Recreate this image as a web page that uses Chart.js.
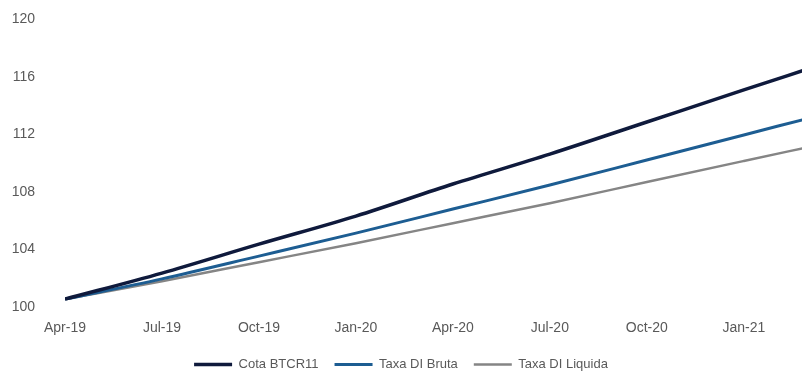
<!DOCTYPE html>
<html>
<head>
<meta charset="utf-8">
<script src="https://cdn.jsdelivr.net/npm/chart.js@4.4.1/dist/chart.umd.min.js"></script>
<style>
  html, body { margin: 0; padding: 0; background: #fff; overflow: hidden; }
  #wrap { width: 802px; height: 382px; position: relative; margin-top: -11px; }
</style>
</head>
<body>
<div id="wrap"><canvas id="chart"></canvas></div>
<script>
// months since Apr-19 for each point
var monthIdx = [0, 3, 6, 9, 12, 15, 18, 21, 23];
var tickLabels = ['Apr-19', 'Jul-19', 'Oct-19', 'Jan-20', 'Apr-20', 'Jul-20', 'Oct-20', 'Jan-21'];
var cotaBTCR11 = [100.56, 102.37, 104.38, 106.33, 108.56, 110.64, 112.87, 115.10, 116.57];
var taxaDIBruta = [100.56, 101.97, 103.55, 105.15, 106.82, 108.49, 110.23, 111.97, 113.13];
var taxaDILiquida = [100.56, 101.81, 103.13, 104.45, 105.84, 107.23, 108.70, 110.16, 111.13];

function pts(vals) {
    return vals.map(function(v, i) { return { x: monthIdx[i], y: v }; });
}

var labelFont = { family: "'Liberation Sans Narrow', 'Liberation Sans', sans-serif", size: 14 };

new Chart(document.getElementById('chart'), {
    type: 'line',
    data: {
        datasets: [{
            label: 'Cota BTCR11',
            data: pts(cotaBTCR11),
            borderColor: '#0f1a3c',
            backgroundColor: '#0f1a3c',
            borderWidth: 3.5,
            pointRadius: 0,
            cubicInterpolationMode: 'monotone'
        }, {
            label: 'Taxa DI Bruta',
            data: pts(taxaDIBruta),
            borderColor: '#1d5d92',
            backgroundColor: '#1d5d92',
            borderWidth: 3,
            pointRadius: 0,
            cubicInterpolationMode: 'monotone'
        }, {
            label: 'Taxa DI Liquida',
            data: pts(taxaDILiquida),
            borderColor: '#858585',
            backgroundColor: '#858585',
            borderWidth: 2.5,
            pointRadius: 0,
            cubicInterpolationMode: 'monotone'
        }]
    },
    options: {
        responsive: true,
        maintainAspectRatio: false,
        animation: false,
        layout: { padding: { top: 0, right: 0, left: 0, bottom: -10 } },
        plugins: {
            tooltip: { enabled: false },
            legend: {
                position: 'bottom',
                labels: {
                    usePointStyle: true,
                    pointStyle: 'line',
                    pointStyleWidth: 38,
                    color: '#595959',
                    font: { family: labelFont.family, size: 13 },
                    padding: 16
                }
            }
        },
        scales: {
            x: {
                type: 'linear',
                min: 0,
                max: 22.8,
                grid: { display: false },
                border: { display: false },
                afterBuildTicks: function(scale) {
                    scale.ticks = tickLabels.map(function(t, i) { return { value: i * 3 }; });
                },
                ticks: {
                    color: '#595959',
                    font: labelFont,
                    padding: 5,
                    maxRotation: 0,
                    autoSkip: false,
                    callback: function(v) { return tickLabels[v / 3]; }
                }
            },
            y: {
                min: 100,
                max: 120,
                grid: { display: false },
                border: { display: false },
                afterFit: function(scale) { scale.width = 65; },
                ticks: {
                    stepSize: 4,
                    color: '#595959',
                    font: labelFont,
                    padding: 22
                }
            }
        }
    }
});
</script>
</body>
</html>
